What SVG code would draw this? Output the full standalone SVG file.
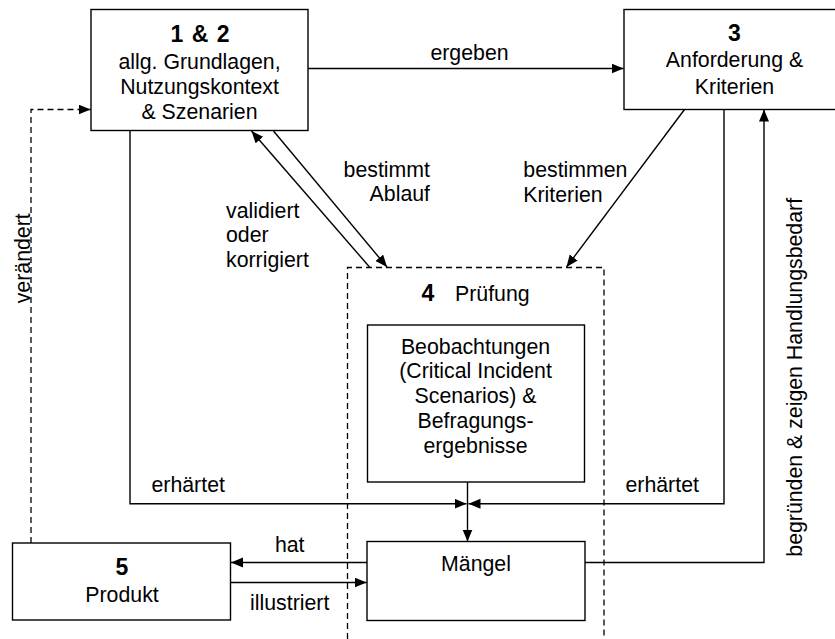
<svg xmlns="http://www.w3.org/2000/svg" width="835" height="639" viewBox="0 0 835 639">
<style>
text{font-family:"Liberation Sans",Arial,sans-serif;font-size:21.3px;fill:#000}
.c{text-anchor:middle}
.e{text-anchor:end}
.b{font-weight:bold;font-size:23px}
.box{fill:#fff;stroke:#000;stroke-width:1.4}
.ln{fill:none;stroke:#000;stroke-width:1.4}
.dash{fill:none;stroke:#000;stroke-width:1.3;stroke-dasharray:6 4}
</style>
<defs>
<marker id="ar" markerUnits="userSpaceOnUse" markerWidth="13" markerHeight="11" refX="12" refY="5" orient="auto">
<path d="M0,0 L12,5 L0,10 z" fill="#000"/>
</marker>
</defs>
<rect width="835" height="639" fill="#fff"/>

<g id="node4-frame">
<path class="dash" d="M347.5,639 V267.5 H604 V639"/>
<text class="b" x="421.5" y="301">4</text>
<text x="455" y="301">Prüfung</text>
</g>

<g id="connectors">
<line class="ln" x1="308" y1="68.5" x2="623.5" y2="68.5" marker-end="url(#ar)"/>
<polyline class="ln" points="130,130.7 130,503.7 466.5,503.7" marker-end="url(#ar)"/>
<polyline class="ln" points="724,109.5 724,503.7 468.5,503.7" marker-end="url(#ar)"/>
<line class="ln" x1="467.5" y1="482" x2="467.5" y2="541.5" marker-end="url(#ar)"/>
<line class="ln" x1="369.5" y1="267" x2="251.5" y2="131" marker-end="url(#ar)"/>
<line class="ln" x1="273.5" y1="131" x2="387" y2="267" marker-end="url(#ar)"/>
<line class="ln" x1="684.5" y1="109.5" x2="566.5" y2="267" marker-end="url(#ar)"/>
<line class="ln" x1="367" y1="562.5" x2="231" y2="562.5" marker-end="url(#ar)"/>
<line class="ln" x1="231" y1="582.5" x2="366.5" y2="582.5" marker-end="url(#ar)"/>
<polyline class="ln" points="585,562.5 764,562.5 764,109.5" marker-end="url(#ar)"/>
<polyline class="dash" points="31,543 31,109.5 90.5,109.5" marker-end="url(#ar)"/>
<text class="c" x="469.5" y="60">ergeben</text>
<text x="151.5" y="492.3">erhärtet</text>
<text x="625.5" y="492.3">erhärtet</text>
<text class="e" x="430" y="177">bestimmt</text>
<text class="e" x="430" y="201">Ablauf</text>
<text x="523.3" y="177">bestimmen</text>
<text x="523.3" y="202">Kriterien</text>
<text x="226" y="217.5">validiert</text>
<text x="226" y="242">oder</text>
<text x="226" y="266.5">korrigiert</text>
<text class="c" x="289.7" y="552">hat</text>
<text class="c" x="289.7" y="610">illustriert</text>
<text transform="translate(30,303.3) rotate(-90)">verändert</text>
<text transform="translate(801.5,556.7) rotate(-90)">begründen &amp; zeigen Handlungsbedarf</text>
</g>

<g id="node12">
<rect class="box" x="91" y="9.5" width="217" height="121"/>
<text class="c b" x="200" y="41.7" word-spacing="2">1 &amp; 2</text>
<text class="c" x="199.5" y="69">allg. Grundlagen,</text>
<text class="c" x="199.5" y="94">Nutzungskontext</text>
<text class="c" x="199.5" y="119">&amp; Szenarien</text>
</g>

<g id="node3">
<rect class="box" x="624" y="9.5" width="222" height="100"/>
<text class="c b" x="734.5" y="41">3</text>
<text class="c" x="734.5" y="67">Anforderung &amp;</text>
<text class="c" x="734.5" y="94">Kriterien</text>
</g>

<g id="node4-obs">
<rect class="box" x="367.5" y="325" width="217" height="157"/>
<text class="c" x="475.5" y="353.5">Beobachtungen</text>
<text class="c" x="475.5" y="378">(Critical Incident</text>
<text class="c" x="475.5" y="402.5">Scenarios) &amp;</text>
<text class="c" x="475.5" y="427.5">Befragungs-</text>
<text class="c" x="475.5" y="452.5">ergebnisse</text>
</g>

<g id="node-maengel">
<rect class="box" x="367" y="541.5" width="218" height="79"/>
<text class="c" x="476" y="571">Mängel</text>
</g>

<g id="node5">
<rect class="box" x="12.5" y="543" width="218" height="77"/>
<text class="c b" x="122" y="575">5</text>
<text class="c" x="122" y="602.3">Produkt</text>
</g>
</svg>
